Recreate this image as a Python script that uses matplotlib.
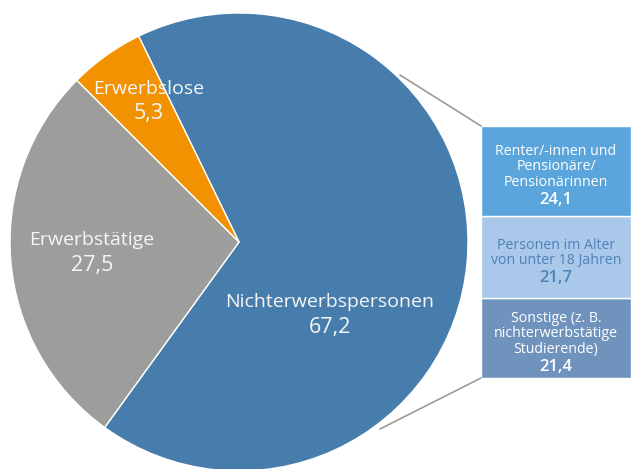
import matplotlib.pyplot as plt
from matplotlib.patches import ConnectionPatch

# main pie
pie_labels = ["Nichterwerbspersonen", "Erwerbstätige", "Erwerbslose"]
pie_values = [67.2, 27.5, 5.3]
pie_colors = ["#467dac", "#9d9d9c", "#f39200"]

# breakdown of Nichterwerbspersonen, listed bottom to top
bar_labels = [
    "Sonstige (z. B.\nnichterwerbstätige\nStudierende)",
    "Personen im Alter\nvon unter 18 Jahren",
    "Renter/-innen und\nPensionäre/\nPensionärinnen",
]
bar_values = [21.4, 21.7, 24.1]
bar_colors = ["#7093be", "#a9c8ea", "#5aa6dc"]
bar_text_colors = ["white", "#4f82b8", "white"]

plt.rcParams["font.family"] = ["Open Sans", "DejaVu Sans"]

W, H = 631, 469
fig = plt.figure(figsize=(W / 100, H / 100), dpi=100)

# pie axes in pixel units (y up)
ax = fig.add_axes([0, 0, 1, 1])
cx, cy, r = 239, 227, 229
ax.pie(pie_values, colors=pie_colors, startangle=116, counterclock=False,
       center=(cx, cy), radius=r,
       wedgeprops=dict(edgecolor="white", linewidth=1))
ax.set_xlim(0, W)
ax.set_ylim(0, H)
ax.set_aspect("equal")
ax.axis("off")

txt = "#f6f6f6"
fmt = lambda v: f"{v:.1f}".replace(".", ",")
label_pos = [(330, 167, 141), (92, 229, 204), (149, 380, 356)]
for name, v, (x, y1, y2) in zip(pie_labels, pie_values, label_pos):
    ax.text(x, y1, name, color=txt, fontsize=14, ha="center", va="center")
    ax.text(x, y2, fmt(v), color=txt, fontsize=15.5, ha="center", va="center")

# stacked bar on the right
ax2 = fig.add_axes([481 / W, (H - 378) / H, 150 / W, 252 / H])
bottom = 0
for name, v, c, tc in zip(bar_labels, bar_values, bar_colors, bar_text_colors):
    ax2.bar(0, v, bottom=bottom, width=1, color=c, edgecolor="white", linewidth=1)
    mid = bottom + v / 2
    n = name.count("\n") + 1
    ax2.annotate(name, (0, mid), xytext=(0, 4.25 * 0.72), textcoords="offset points",
                 ha="center", va="center", color=tc, fontsize=10.2, linespacing=1.05)
    ax2.annotate(fmt(v), (0, mid), xytext=(0, -(4 + n * 16.5 / 2) * 0.72),
                 textcoords="offset points", ha="center", va="center",
                 color=tc, fontsize=12, fontweight="semibold")
    bottom += v
ax2.set_xlim(-0.5, 0.5)
ax2.set_ylim(0, bottom)
ax2.axis("off")

# connector lines from pie edge to bar corners
for (px, py), (bx, by) in [((400, 394), (0, 1)), ((380, 40), (0, 0))]:
    con = ConnectionPatch(xyA=(px, py), coordsA=ax.transData,
                          xyB=(bx, by), coordsB=ax2.transAxes,
                          color="#9a9a9a", linewidth=1.2)
    fig.add_artist(con)

fig.savefig("out.png", dpi=100)
